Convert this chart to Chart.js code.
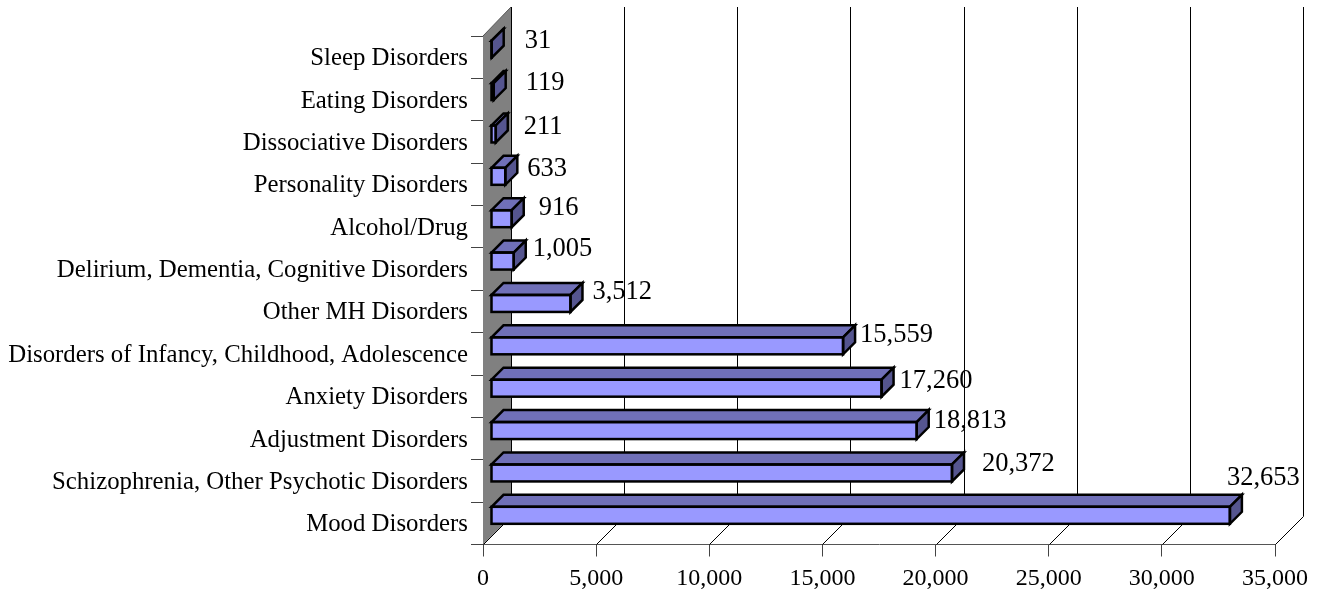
<!DOCTYPE html>
<html>
<head>
<meta charset="utf-8">
<style>
  html, body { margin: 0; padding: 0; background: #fff; }
  canvas { display: block; }
</style>
<script src="https://cdn.jsdelivr.net/npm/chart.js@4"></script>
</head>
<body>
<canvas id="myChart" width="1320" height="590"></canvas>
<script>
var categories = ['Sleep Disorders', 'Eating Disorders', 'Dissociative Disorders', 'Personality Disorders',
    'Alcohol/Drug', 'Delirium, Dementia, Cognitive Disorders', 'Other MH Disorders',
    'Disorders of Infancy, Childhood, Adolescence', 'Anxiety Disorders', 'Adjustment Disorders',
    'Schizophrenia, Other Psychotic Disorders', 'Mood Disorders'];
var counts = [31, 119, 211, 633, 916, 1005, 3512, 15559, 17260, 18813, 20372, 32653];
var xTicks = [0, 5000, 10000, 15000, 20000, 25000, 30000, 35000];

// hand placed value labels in the original, offset from the value position
var labelNudgeX = [41, 40, 36, 30, 35, 27, 30, 25, 26, 25, 38, 5];
var labelNudgeY = [-16, -17, -15, -15, -19, -20, -19, -19, -15, -18, -17, -45];

var serif = '"Liberation Serif", "Times New Roman", serif';
var wallDepth = 28;   // depth of the 3d box
var barInset = 8;     // bars sit this far in from the front of the box
var barDepth = 12;

var box3d = {
    id: 'box3d',
    beforeDatasetsDraw: function(chart) {
        var ctx = chart.ctx, x = chart.scales.x, a = chart.chartArea;
        ctx.save();
        // side wall
        ctx.fillStyle = '#808080';
        ctx.beginPath();
        ctx.moveTo(a.left, a.top);
        ctx.lineTo(a.left + wallDepth, a.top - wallDepth - 1);
        ctx.lineTo(a.left + wallDepth, a.bottom - wallDepth);
        ctx.lineTo(a.left, a.bottom);
        ctx.closePath();
        ctx.fill();
        ctx.strokeStyle = '#555555';
        ctx.lineWidth = 1;
        ctx.beginPath();
        ctx.moveTo(a.left, a.top);
        ctx.lineTo(a.left + wallDepth, a.top - wallDepth - 1);
        ctx.stroke();
        // back wall lines and floor lines
        ctx.strokeStyle = '#000';
        xTicks.forEach(function(t) {
            var px = Math.round(x.getPixelForValue(t)) + 0.5;
            ctx.beginPath();
            ctx.moveTo(px, a.bottom);
            ctx.lineTo(px + wallDepth, a.bottom - wallDepth);
            ctx.lineTo(px + wallDepth, a.top - wallDepth - 1);
            ctx.stroke();
        });
        ctx.restore();
        // front faces of the bars are drawn by Chart.js, shifted into the box
        ctx.save();
        ctx.translate(barInset, -barInset);
    },
    afterDatasetsDraw: function(chart) {
        var ctx = chart.ctx;
        ctx.restore();
        var bars = chart.getDatasetMeta(0).data;
        var d = barDepth;
        ctx.save();
        ctx.lineWidth = 2.5;
        ctx.lineJoin = 'miter';
        ctx.strokeStyle = '#000';
        bars.forEach(function(bar, i) {
            var p = bar.getProps(['x', 'y', 'base', 'height']);
            var l = p.base + barInset, r = p.x + barInset;
            var t = p.y - p.height / 2 - barInset, b = p.y + p.height / 2 - barInset;
            // top
            ctx.fillStyle = '#7070b8';
            ctx.beginPath();
            ctx.moveTo(l, t);
            ctx.lineTo(l + d, t - d);
            ctx.lineTo(r + d, t - d);
            ctx.lineTo(r, t);
            ctx.closePath();
            ctx.fill();
            ctx.stroke();
            // side
            ctx.fillStyle = '#55558f';
            ctx.beginPath();
            ctx.moveTo(r, t);
            ctx.lineTo(r + d, t - d);
            ctx.lineTo(r + d, b - d);
            ctx.lineTo(r, b);
            ctx.closePath();
            ctx.fill();
            ctx.stroke();
            // outline of the front
            ctx.strokeRect(l, t, r - l, b - t);
        });
        // value labels
        ctx.fillStyle = '#000';
        ctx.font = '26.5px ' + serif;
        ctx.textAlign = 'left';
        ctx.textBaseline = 'middle';
        bars.forEach(function(bar, i) {
            var p = bar.getProps(['x', 'y']);
            ctx.fillText(counts[i].toLocaleString('en-US'), p.x + labelNudgeX[i], p.y + labelNudgeY[i]);
        });
        ctx.restore();
    }
};

var ctx = document.getElementById('myChart').getContext('2d');
var myChart = new Chart(ctx, {
    type: 'bar',
    data: {
        labels: categories,
        datasets: [{
            data: counts,
            backgroundColor: '#9999ff',
            borderWidth: 0,
            barThickness: 17,
            clip: false
        }]
    },
    options: {
        indexAxis: 'y',
        responsive: false,
        animation: false,
        layout: { padding: { top: 36, right: 45 } },
        plugins: { legend: { display: false }, tooltip: { enabled: false } },
        scales: {
            x: {
                min: 0,
                max: 35000,
                afterFit: function(scale) { scale.height = 45.5; },
                afterBuildTicks: function(scale) {
                    scale.ticks = xTicks.map(function(v) { return { value: v }; });
                },
                grid: { drawOnChartArea: false, tickLength: 12, color: '#444444' },
                border: { color: '#555555' },
                ticks: {
                    autoSkip: false,
                    maxRotation: 0,
                    padding: 8,
                    color: '#000',
                    font: { family: serif, size: 24 },
                    callback: function(v) { return v.toLocaleString('en-US'); }
                }
            },
            y: {
                afterFit: function(scale) { scale.width = 483; },
                grid: { drawOnChartArea: false, tickLength: 12, color: '#444444' },
                border: { color: '#555555' },
                ticks: {
                    autoSkip: false,
                    padding: 3,
                    labelOffset: 1.5,
                    color: '#000',
                    font: { family: serif, size: 24.8 }
                }
            }
        }
    },
    plugins: [box3d]
});
</script>
</body>
</html>
